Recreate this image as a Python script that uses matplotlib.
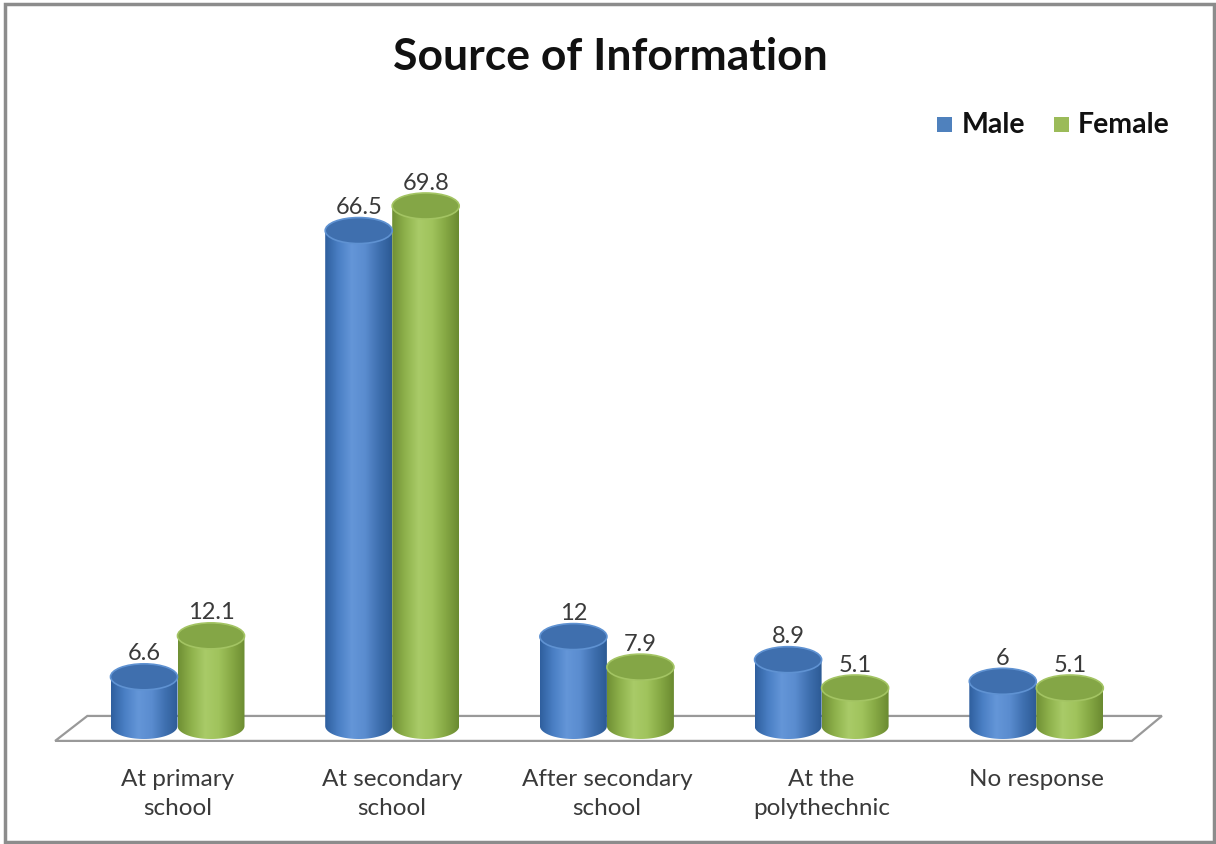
import numpy as np
import matplotlib.pyplot as plt
from matplotlib.patches import Ellipse, Polygon, Rectangle, PathPatch
from matplotlib.path import Path
from matplotlib.colors import LinearSegmentedColormap

plt.rcParams['font.family'] = ['Lato', 'DejaVu Sans']

categories = ['At primary\nschool', 'At secondary\nschool', 'After secondary\nschool',
              'At the\npolythechnic', 'No response']
male = [6.6, 66.5, 12, 8.9, 6]
female = [12.1, 69.8, 7.9, 5.1, 5.1]
value_labels_male = ['6.6', '66.5', '12', '8.9', '6']
value_labels_female = ['12.1', '69.8', '7.9', '5.1', '5.1']

fig = plt.figure(figsize=(12.16, 8.45), dpi=100)
ax = fig.add_axes([0, 0, 1, 1])
ax.set_axis_off()

# x in category units (spacing ~215 px), y in value units (~7.45 px per unit)
px_x = 214.7
px_y = 7.45
x_lo = -177.5 / px_x
x_hi = (1216 - 177.5) / px_x
y_lo = -118 / px_y
y_hi = (845 - 118) / px_y

bar_w = 67 / px_x
ell_h = 26 / px_y

blue_cmap = LinearSegmentedColormap.from_list(
    'blue', ['#2f5f9e', '#4a7fc4', '#6496d8', '#5a8ccf', '#3f70b0', '#2c5a94'])
green_cmap = LinearSegmentedColormap.from_list(
    'green', ['#6f8f34', '#8fb24c', '#a9cb68', '#a0c35c', '#86a844', '#6a8a30'])

# floor
floor = Polygon([(-0.57, -2.0), (-0.42, 1.35), (4.585, 1.35), (4.445, -2.0)],
                closed=True, facecolor='white', edgecolor='#999999', lw=1.6, zorder=1)
ax.add_patch(floor)


def cylinder(xc, v, cmap, top_face, top_edge):
    x0, x1 = xc - bar_w / 2, xc + bar_w / 2
    t = np.linspace(np.pi, 2 * np.pi, 60)
    bottom = np.column_stack([xc + bar_w / 2 * np.cos(t), ell_h / 2 * np.sin(t)])
    verts = np.vstack([[[x0, v]], bottom, [[x1, v]], [[x0, v]]])
    codes = [Path.MOVETO] + [Path.LINETO] * (len(verts) - 2) + [Path.CLOSEPOLY]
    clip = PathPatch(Path(verts, codes), facecolor='none', edgecolor='none')
    ax.add_patch(clip)
    grad = np.linspace(0, 1, 256).reshape(1, -1)
    im = ax.imshow(grad, cmap=cmap, aspect='auto', extent=[x0, x1, -ell_h, v],
                   origin='lower', zorder=2)
    im.set_clip_path(clip)
    ax.add_patch(Ellipse((xc, v), bar_w, ell_h, facecolor=top_face,
                         edgecolor=top_edge, lw=1.2, zorder=3))


off = 33.5 / px_x
for i in range(len(categories)):
    cylinder(i - off, male[i], blue_cmap, '#3f6fae', '#5f92d2')
    ax.text(i - off, male[i] + ell_h / 2 + 0.05, value_labels_male[i], ha='center',
            va='bottom', fontsize=17, color='#3a3a3a', zorder=4)
    cylinder(i + off, female[i], green_cmap, '#84a646', '#a3c463')
    ax.text(i + off, female[i] + ell_h / 2 + 0.05, value_labels_female[i], ha='center',
            va='bottom', fontsize=17, color='#3a3a3a', zorder=4)
    ax.text(i, -5.6, categories[i], ha='center', va='top', fontsize=17.5,
            color='#3a3a3a', linespacing=1.5)

ax.set_xlim(x_lo, x_hi)
ax.set_ylim(y_lo, y_hi)

fig.text(0.502, 0.933, 'Source of Information', ha='center', va='center',
         fontsize=32, fontweight='bold', color='#111111')

# legend
fig.patches.append(Rectangle((937 / 1216, 1 - 133 / 845), 15 / 1216, 15 / 845,
                             transform=fig.transFigure, facecolor='#4f81bd',
                             edgecolor='none'))
fig.text(962 / 1216, 1 - 125 / 845, 'Male', ha='left', va='center', fontsize=20.5,
         fontweight='bold', color='#111111')
fig.patches.append(Rectangle((1054 / 1216, 1 - 133 / 845), 15 / 1216, 15 / 845,
                             transform=fig.transFigure, facecolor='#9bbb59',
                             edgecolor='none'))
fig.text(1078 / 1216, 1 - 125 / 845, 'Female', ha='left', va='center', fontsize=20.5,
         fontweight='bold', color='#111111')

# chart border
fig.patches.append(Rectangle((4.5 / 1216, 2 / 845), 1209 / 1216, 838.5 / 845,
                             transform=fig.transFigure, facecolor='none',
                             edgecolor='#8c8c8c', lw=2.5))

fig.savefig('out.png', dpi=100)
